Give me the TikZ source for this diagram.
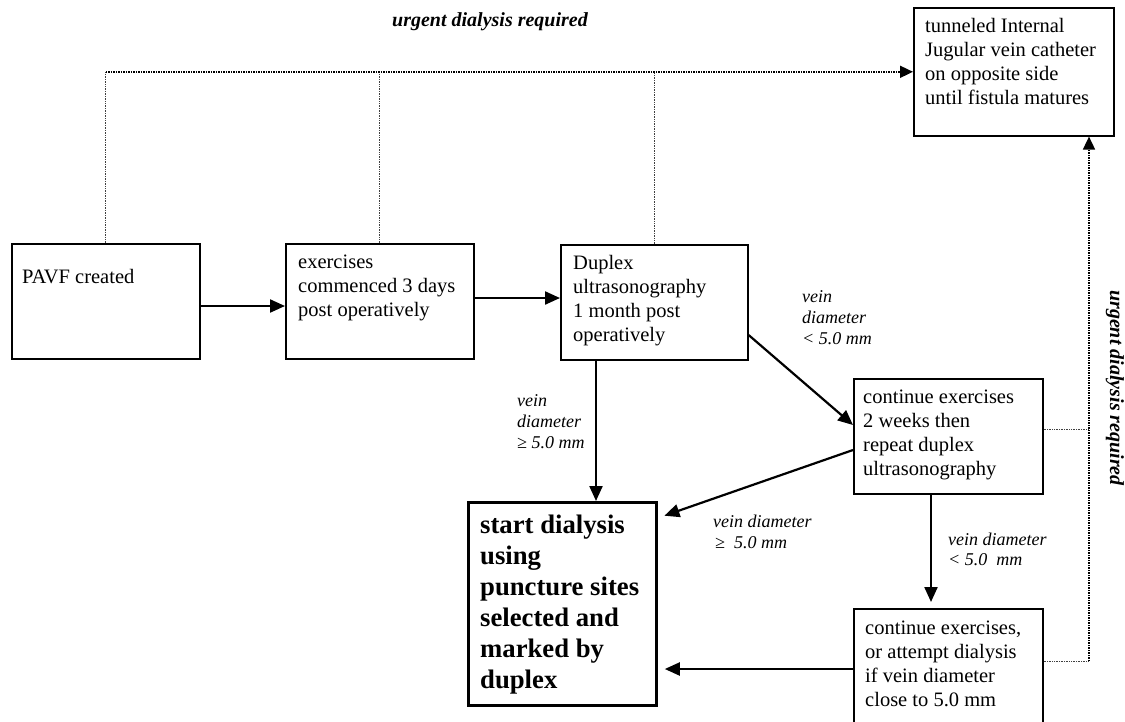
\documentclass[tikz,border=0pt]{standalone}
\usepackage{fontspec}
\setmainfont{Liberation Serif}
\usetikzlibrary{arrows.meta,calc}
\begin{document}
\begin{tikzpicture}[x=1pt,y=-1pt,
  box/.style={draw, line width=1.6pt, inner sep=0pt, anchor=north west},
  body/.style={anchor=base west, inner sep=0pt, font=\fontsize{20.5}{24}\selectfont},
  bigbold/.style={anchor=base west, inner sep=0pt, font=\fontsize{26.7}{31}\selectfont\bfseries},
  lab/.style={anchor=base west, inner sep=0pt, font=\fontsize{18}{21}\selectfont\itshape},
  urg/.style={inner sep=0pt, font=\fontsize{20}{24}\selectfont\bfseries\itshape},
  arr/.style={line width=2.2pt, -{Triangle[length=15pt,width=13pt]}},
  dotmain/.style={line width=1.7pt, dash pattern=on 1.3pt off 1.2pt},
  dotthin/.style={line width=0.8pt, black!75, dash pattern=on 0.8pt off 0.9pt},
  dtip/.style={-{Triangle[length=13pt,width=12pt]}},
]
\useasboundingbox (0,0) rectangle (1125,721);
\clip (0,0) rectangle (1125,721);

% boxes
\node[box, minimum width=188pt, minimum height=115pt] (pavf) at (11,243) {};
\node[box, minimum width=188pt, minimum height=115pt] (ex) at (285,243) {};
\node[box, minimum width=187pt, minimum height=115pt] (dup) at (560,244) {};
\node[box, minimum width=200pt, minimum height=128pt] (tun) at (913,7) {};
\node[box, minimum width=189pt, minimum height=115pt] (c1) at (853,378) {};
\node[box, minimum width=189pt, minimum height=125pt] (c2) at (853,608) {};
\node[box, line width=2.8pt, minimum width=188pt, minimum height=203pt] (start) at (467,501) {};

% box texts
\node[body] (pavft) at (22,283) {PAVF created};
\node[body] (ext) at (298,268) {\parbox[t]{200pt}{\raggedright exercises\\commenced 3 days\\post operatively}};
\node[body] (dupt) at (573,269) {\parbox[t]{200pt}{\raggedright Duplex\\ultrasonography\\1 month post\\operatively}};
\node[body] (tunt) at (925,32) {\parbox[t]{200pt}{\raggedright tunneled Internal\\Jugular vein catheter\\on opposite side\\until fistula matures}};
\node[body] (c1t) at (863,403) {\parbox[t]{200pt}{\raggedright continue exercises\\2 weeks then\\repeat duplex\\ultrasonography}};
\node[body] (c2t) at (865,634) {\parbox[t]{200pt}{\raggedright continue exercises,\\or attempt dialysis\\if vein diameter\\close to 5.0 mm}};
\node[bigbold] (startt) at (480,533) {\parbox[t]{200pt}{\raggedright start dialysis\\using\\puncture sites\\selected and\\marked by\\duplex}};

% labels
\node[lab] (l1) at (517,406) {\parbox[t]{100pt}{\raggedright vein\\diameter\\≥ 5.0 mm}};
\node[lab] (l2) at (802,302) {\parbox[t]{100pt}{\raggedright vein\\diameter\\< 5.0 mm}};
\node[lab] (l3) at (713,527) {\parbox[t]{150pt}{\raggedright vein diameter\\\hspace*{2pt}≥\ \ 5.0 mm}};
\node[lab, font=\fontsize{18}{20}\selectfont\itshape] (l4) at (948,545) {\parbox[t]{150pt}{\raggedright vein diameter\\< 5.0\ \ mm}};
\node[urg] (u1) at (490,22) {urgent dialysis required};
\node[urg, rotate=-90] (u2) at (1115,388) {urgent dialysis required};

% helper coordinates
\coordinate (tl) at (pavf.north |- tun.west);
\coordinate (rb) at (1089,661);
\coordinate (y429) at (0,429);
\coordinate (y306) at (0,306);
\coordinate (y298) at (0,298);
\coordinate (y335) at (0,335);
\coordinate (y425) at (0,425);
\coordinate (y450) at (0,450);
\coordinate (y518) at (0,518);
\coordinate (y669) at (0,669);
\coordinate (x596) at (596,0);
\coordinate (x931) at (931,0);

% dotted connectors
\draw[dotthin] (pavf.north) -- (tl);
\draw[dotthin] (ex.north) -- (ex.north |- tun.west);
\draw[dotthin] (dup.north) -- (dup.north |- tun.west);
\draw[dotmain, dtip] (tl) -- (tun.west);
\draw[dotthin] (c2.east |- rb) -- (rb);
\draw[dotthin] (c1.east |- y429) -- (rb |- y429);
\draw[dotmain, dtip] (rb) -- (rb |- tun.south);

% solid arrows
\draw[arr] (pavf.east |- y306) -- (ex.west |- y306);
\draw[arr] (ex.east |- y298) -- (dup.west |- y298);
\draw[arr] (dup.south -| x596) -- (start.north -| x596);
\draw[arr] (dup.east |- y335) -- (c1.west |- y425);
\draw[arr, shorten >=7pt] (c1.west |- y450) -- (start.east |- y518);
\draw[arr, shorten >=6pt] (c1.south -| x931) -- (c2.north -| x931);
\draw[arr, shorten >=7pt] (c2.west |- y669) -- (start.east |- y669);
\end{tikzpicture}
\end{document}
